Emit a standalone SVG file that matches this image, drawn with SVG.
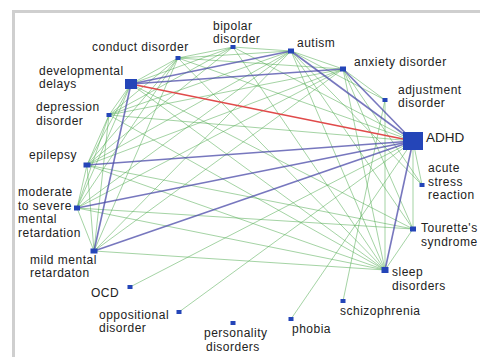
<svg xmlns="http://www.w3.org/2000/svg" width="480" height="357" viewBox="0 0 480 357">
<style>
.g{stroke:#4aa84a;stroke-opacity:0.5;stroke-width:1;fill:none}
.b{stroke:#4a4aa8;stroke-opacity:0.75;stroke-width:1.6;fill:none}
.r{stroke:#e04a4a;stroke-width:1.3;fill:none}
.n{fill:#2445b8}
text{font-family:"Liberation Sans",Arial,sans-serif;font-size:12px;letter-spacing:0.5px;fill:#222}
</style>
<rect x="0" y="0" width="480" height="357" fill="#fff"/>
<rect x="12" y="10" width="468" height="3" fill="#cfcfcf"/>
<rect x="12" y="10" width="3" height="347" fill="#cfcfcf"/>
<g id="connectors">
<line class="g" x1="131" y1="84" x2="109" y2="115"/>
<line class="g" x1="131" y1="84" x2="87" y2="165"/>
<line class="g" x1="131" y1="84" x2="77" y2="208"/>
<line class="g" x1="131" y1="84" x2="178" y2="58"/>
<line class="g" x1="131" y1="84" x2="233" y2="47"/>
<line class="g" x1="109" y1="115" x2="87" y2="165"/>
<line class="g" x1="109" y1="115" x2="77" y2="208"/>
<line class="g" x1="109" y1="115" x2="94" y2="251"/>
<line class="g" x1="109" y1="115" x2="178" y2="58"/>
<line class="g" x1="87" y1="165" x2="77" y2="208"/>
<line class="g" x1="87" y1="165" x2="94" y2="251"/>
<line class="g" x1="87" y1="165" x2="178" y2="58"/>
<line class="g" x1="77" y1="208" x2="94" y2="251"/>
<line class="g" x1="77" y1="208" x2="178" y2="58"/>
<line class="g" x1="94" y1="251" x2="178" y2="58"/>
<line class="g" x1="178" y1="58" x2="233" y2="47"/>
<line class="g" x1="178" y1="58" x2="291" y2="51"/>
<line class="g" x1="178" y1="58" x2="343" y2="69"/>
<line class="g" x1="233" y1="47" x2="291" y2="51"/>
<line class="g" x1="233" y1="47" x2="109" y2="115"/>
<line class="g" x1="233" y1="47" x2="87" y2="165"/>
<line class="g" x1="233" y1="47" x2="413" y2="141"/>
<line class="g" x1="291" y1="51" x2="343" y2="69"/>
<line class="g" x1="291" y1="51" x2="109" y2="115"/>
<line class="g" x1="291" y1="51" x2="87" y2="165"/>
<line class="g" x1="291" y1="51" x2="77" y2="208"/>
<line class="g" x1="291" y1="51" x2="94" y2="251"/>
<line class="g" x1="291" y1="51" x2="385" y2="100"/>
<line class="g" x1="343" y1="69" x2="109" y2="115"/>
<line class="g" x1="343" y1="69" x2="87" y2="165"/>
<line class="g" x1="343" y1="69" x2="77" y2="208"/>
<line class="g" x1="343" y1="69" x2="94" y2="251"/>
<line class="g" x1="343" y1="69" x2="385" y2="100"/>
<line class="g" x1="291" y1="51" x2="385" y2="270"/>
<line class="g" x1="291" y1="51" x2="413" y2="229"/>
<line class="g" x1="343" y1="69" x2="385" y2="270"/>
<line class="g" x1="343" y1="69" x2="413" y2="229"/>
<line class="g" x1="343" y1="69" x2="422" y2="185"/>
<line class="g" x1="385" y1="100" x2="385" y2="270"/>
<line class="g" x1="385" y1="100" x2="343" y2="301"/>
<line class="g" x1="413" y1="141" x2="413" y2="229"/>
<line class="g" x1="413" y1="141" x2="422" y2="185"/>
<line class="g" x1="413" y1="229" x2="385" y2="270"/>
<line class="g" x1="413" y1="141" x2="291" y2="319"/>
<line class="g" x1="413" y1="141" x2="179" y2="312"/>
<line class="g" x1="413" y1="141" x2="130" y2="287"/>
<line class="g" x1="413" y1="141" x2="178" y2="58"/>
<line class="g" x1="413" y1="141" x2="109" y2="115"/>
<line class="g" x1="385" y1="270" x2="131" y2="84"/>
<line class="g" x1="385" y1="270" x2="109" y2="115"/>
<line class="g" x1="385" y1="270" x2="87" y2="165"/>
<line class="g" x1="385" y1="270" x2="77" y2="208"/>
<line class="g" x1="385" y1="270" x2="94" y2="251"/>
<line class="g" x1="385" y1="270" x2="178" y2="58"/>
<line class="g" x1="385" y1="270" x2="233" y2="47"/>
<line class="g" x1="413" y1="229" x2="131" y2="84"/>
<line class="g" x1="413" y1="229" x2="87" y2="165"/>
<line class="g" x1="413" y1="229" x2="77" y2="208"/>
<line class="g" x1="422" y1="185" x2="291" y2="51"/>
<line class="b" x1="131" y1="84" x2="291" y2="51"/>
<line class="b" x1="131" y1="84" x2="343" y2="69"/>
<line class="b" x1="131" y1="84" x2="94" y2="251"/>
<line class="b" x1="291" y1="51" x2="413" y2="141" stroke-width="2.2"/>
<line class="b" x1="343" y1="69" x2="413" y2="141"/>
<line class="b" x1="87" y1="165" x2="413" y2="141"/>
<line class="b" x1="77" y1="208" x2="413" y2="141"/>
<line class="b" x1="94" y1="251" x2="413" y2="141"/>
<line class="b" x1="413" y1="141" x2="385" y2="270"/>
<line class="r" x1="131" y1="84" x2="413" y2="141"/>
</g>
<g id="conduct"><rect class="n" x="175.5" y="56" width="5" height="4"/><text x="92" y="51">conduct disorder</text></g>
<g id="bipolar"><rect class="n" x="230.5" y="45" width="5" height="4"/><text x="213" y="29.5">bipolar</text><text x="213" y="43">disorder</text></g>
<g id="autism"><rect class="n" x="288" y="48.5" width="6" height="5"/><text x="297" y="47">autism</text></g>
<g id="anxiety"><rect class="n" x="340" y="66.5" width="6" height="5"/><text x="354" y="66">anxiety disorder</text></g>
<g id="adjustment"><rect class="n" x="382.5" y="98" width="5" height="4"/><text x="398" y="93.5">adjustment</text><text x="398" y="107">disorder</text></g>
<g id="adhd"><rect class="n" x="403" y="132" width="20" height="18"/><text x="426" y="142" style="font-size:13.5px;letter-spacing:0">ADHD</text></g>
<g id="acute"><rect class="n" x="419.5" y="183" width="5" height="4"/><text x="428" y="172">acute</text><text x="428" y="185.5">stress</text><text x="428" y="199">reaction</text></g>
<g id="tourette"><rect class="n" x="410" y="226.5" width="6" height="5"/><text x="421" y="232">Tourette's</text><text x="421" y="245.5">syndrome</text></g>
<g id="sleep"><rect class="n" x="381.5" y="267" width="7" height="6"/><text x="392" y="276">sleep</text><text x="392" y="289.5">disorders</text></g>
<g id="schizophrenia"><rect class="n" x="340.5" y="299" width="5" height="4"/><text x="340" y="315">schizophrenia</text></g>
<g id="phobia"><rect class="n" x="288.5" y="317" width="5" height="4"/><text x="292" y="333">phobia</text></g>
<g id="personality"><rect class="n" x="230.5" y="321" width="5" height="4"/><text x="204" y="337">personality</text><text x="206" y="350.5">disorders</text></g>
<g id="oppositional"><rect class="n" x="176.5" y="310" width="5" height="4"/><text x="99" y="318.5">oppositional</text><text x="99" y="332">disorder</text></g>
<g id="ocd"><rect class="n" x="127.5" y="285" width="5" height="4"/><text x="91" y="297">OCD</text></g>
<g id="mild"><rect class="n" x="90.5" y="248.5" width="7" height="5"/><text x="30" y="263.5">mild mental</text><text x="30" y="277">retardaton</text></g>
<g id="moderate"><rect class="n" x="74" y="205.5" width="6" height="5"/><text x="18" y="196">moderate</text><text x="18" y="209.5">to severe</text><text x="18" y="223">mental</text><text x="18" y="236.5">retardation</text></g>
<g id="epilepsy"><rect class="n" x="83.5" y="162.5" width="7" height="5"/><text x="29" y="159">epilepsy</text></g>
<g id="depression"><rect class="n" x="106.5" y="113" width="5" height="4"/><text x="36" y="111">depression</text><text x="36" y="124.5">disorder</text></g>
<g id="developmental"><rect class="n" x="125" y="79" width="12" height="10"/><text x="39" y="74.5">developmental</text><text x="39" y="88">delays</text></g>
</svg>
